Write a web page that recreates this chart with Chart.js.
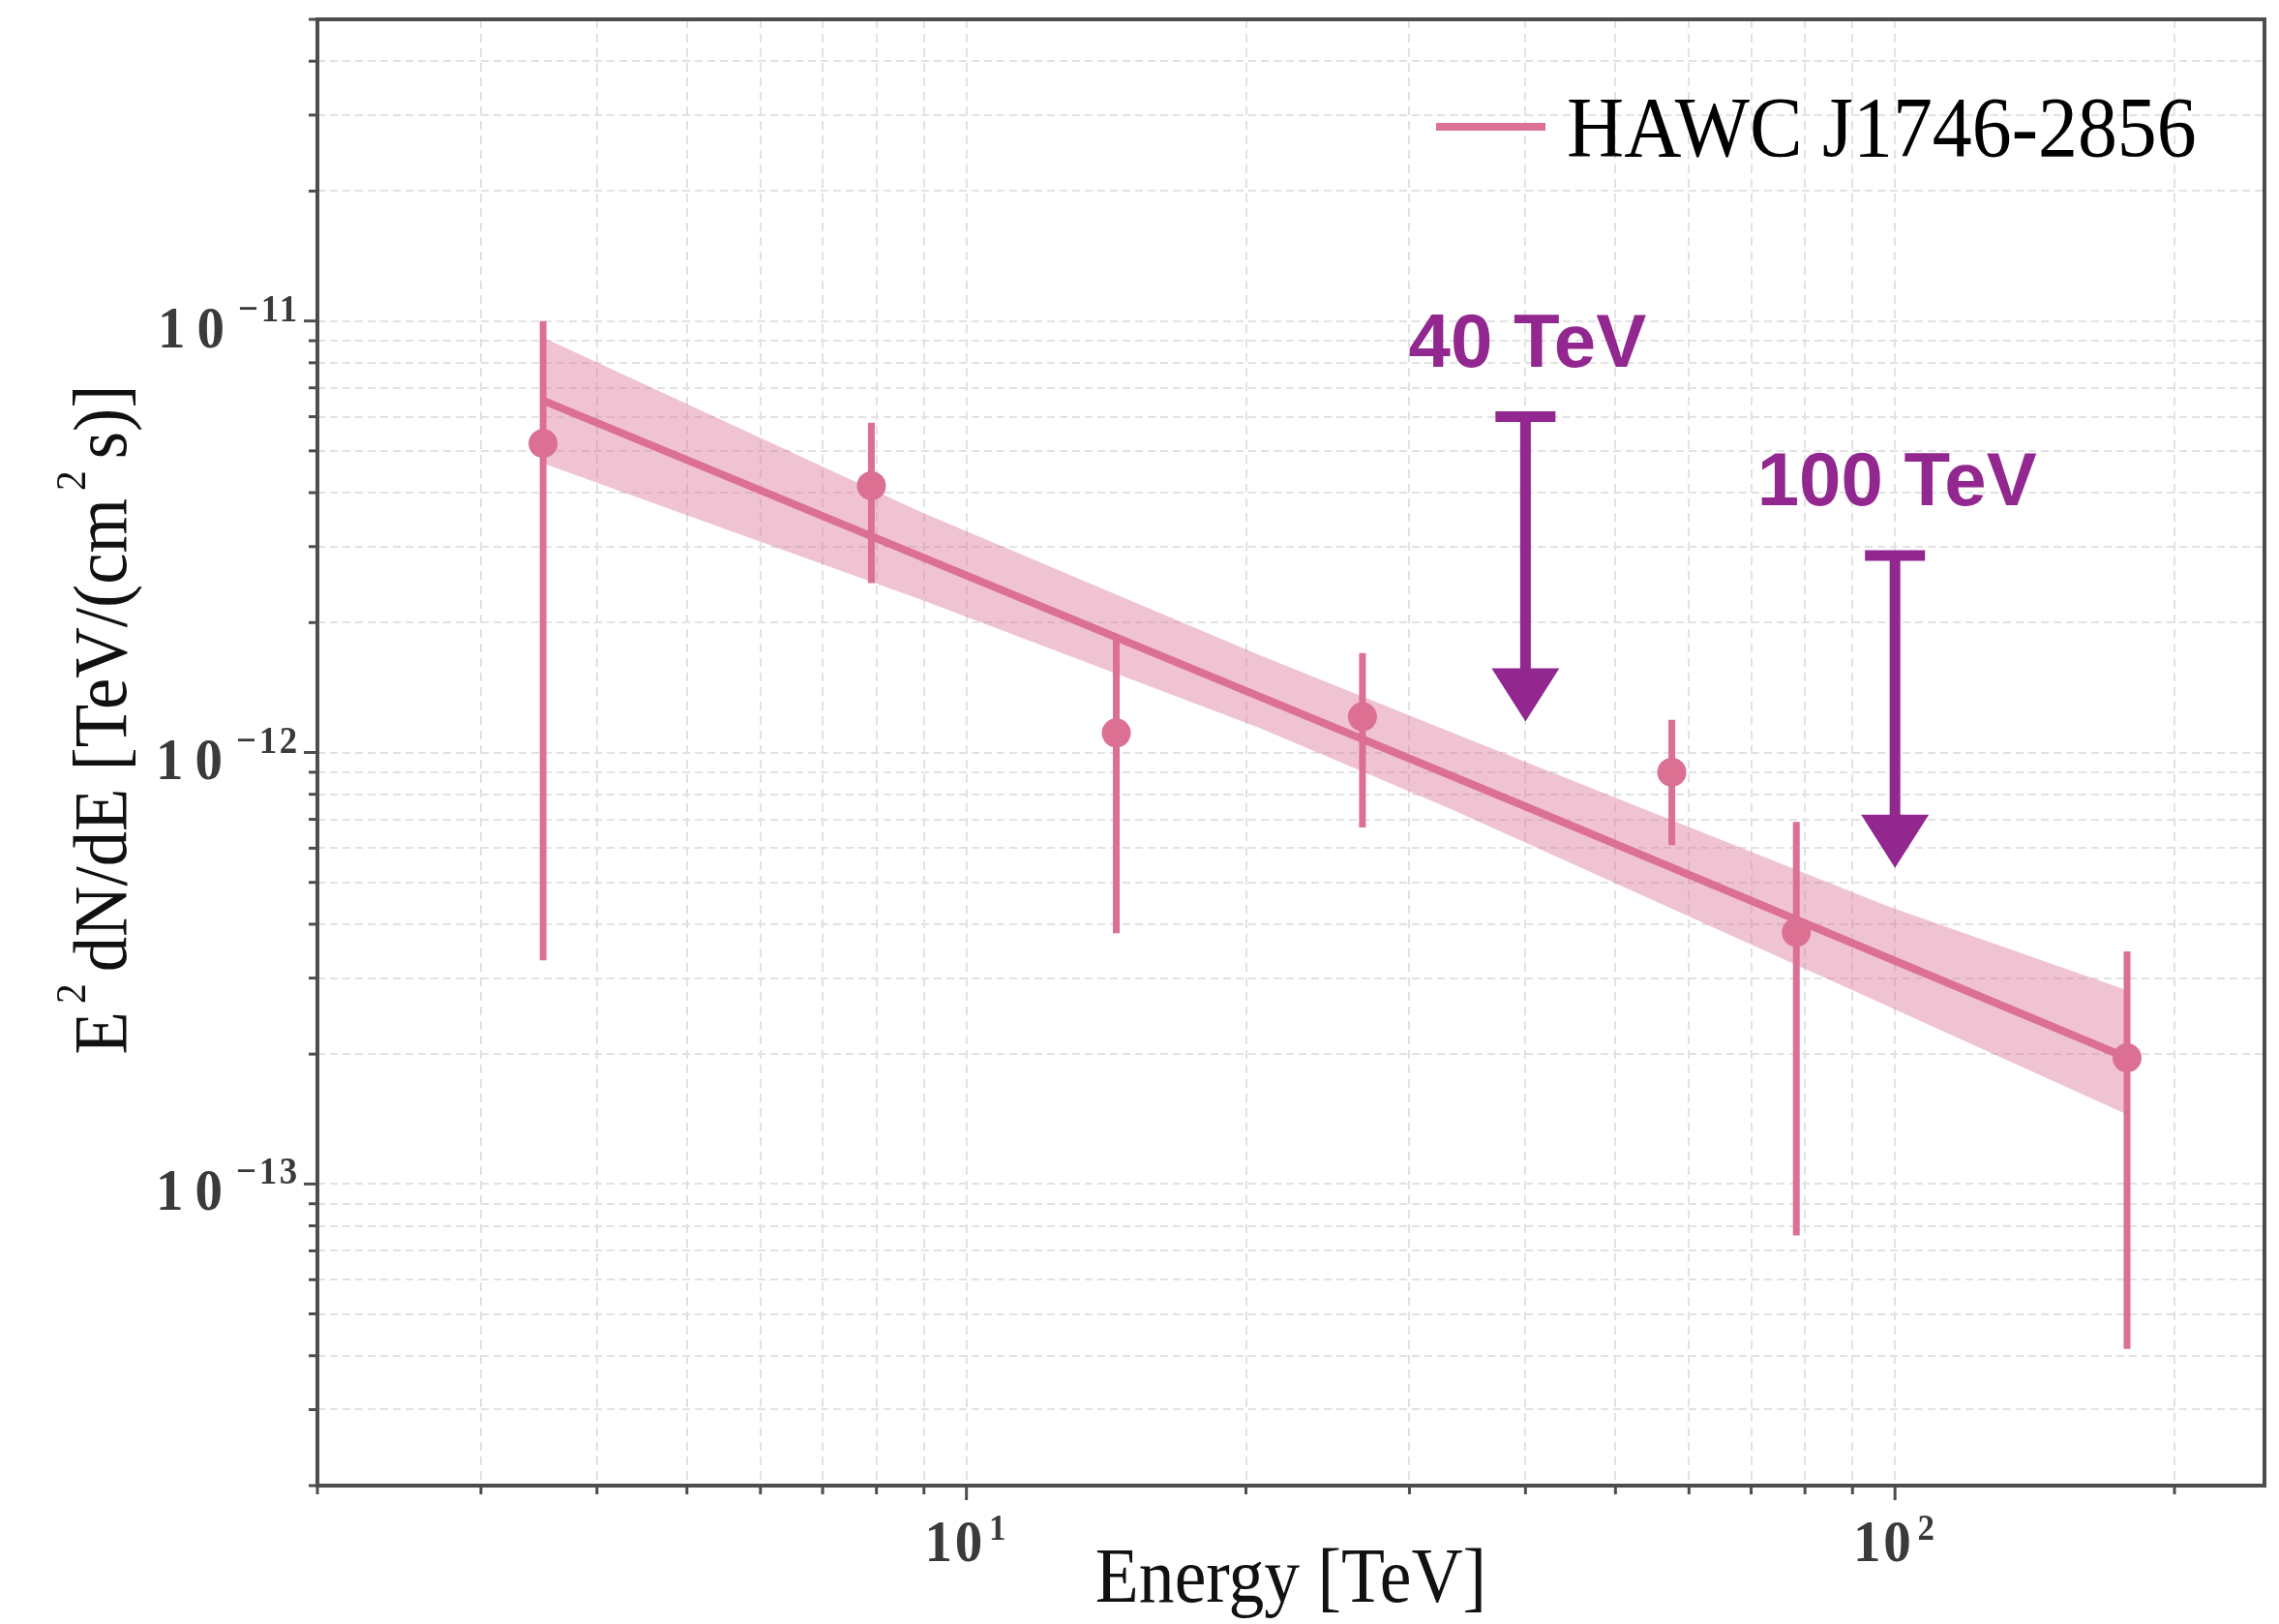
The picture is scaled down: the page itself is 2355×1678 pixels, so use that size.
<!DOCTYPE html>
<html>
<head>
<meta charset="utf-8">
<script src="https://cdn.jsdelivr.net/npm/chart.js@4.4.1/dist/chart.umd.min.js"></script>
<style>
  html, body { margin: 0; padding: 0; background: #fff; }
  #wrap { width: 2355px; height: 1678px; }
</style>
</head>
<body>
<div id="wrap"><canvas id="sed" width="2355" height="1678"></canvas></div>
<script>
// flux points: energy [TeV], E^2 dN/dE [TeV/(cm^2 s)] and error bar ends
var energies  = [3.5, 7.9, 14.5, 26.7, 57.5, 78.3, 177.8];
var fluxes    = [5.2e-12, 4.15e-12, 1.11e-12, 1.21e-12, 9.0e-13, 3.83e-13, 1.96e-13];
var fluxLow   = [3.3e-13, 2.47e-12, 3.81e-13, 6.7e-13, 6.1e-13, 7.6e-14, 4.15e-14];
var fluxHigh  = [1.0e-11, 5.81e-12, 1.84e-12, 1.70e-12, 1.19e-12, 6.9e-13, 3.46e-13];

// best fit and its band
var fitEnergies = [3.5, 40, 177.8];
var fitFluxes   = [6.54e-12, 7.5e-13, 1.96e-13];
var bandEnergies = [3.5, 8.93, 20.7, 33.4, 98.3, 177.8];
var bandUpper    = [9.16e-12, 3.61e-12, 1.68e-12, 1.11e-12, 4.4e-13, 2.81e-13];
var bandLower    = [4.68e-12, 2.26e-12, 1.14e-12, 7.36e-13, 2.58e-13, 1.45e-13];

// hand drawn arrows
var arrowEnergies = [40, 100];
var arrowTops     = [6.0e-12, 2.86e-12];
var arrowTips     = [1.18e-12, 5.4e-13];
var arrowLabels   = ['40 TeV', '100 TeV'];

// axes
var xTicks = [2, 3, 4, 5, 6, 7, 8, 9, 10, 20, 30, 40, 50, 60, 70, 80, 90, 100, 200];
var xMajor = [10, 100];
var xMajorExp = ['1', '2'];
var yTicks = [2e-14, 3e-14, 4e-14, 5e-14, 6e-14, 7e-14, 8e-14, 9e-14,
              1e-13, 2e-13, 3e-13, 4e-13, 5e-13, 6e-13, 7e-13, 8e-13, 9e-13,
              1e-12, 2e-12, 3e-12, 4e-12, 5e-12, 6e-12, 7e-12, 8e-12, 9e-12,
              1e-11, 2e-11, 3e-11, 4e-11, 5e-11];
var yMajor = [1e-13, 1e-12, 1e-11];
var yMajorExp = ['\u221213', '\u221212', '\u221211'];

var seriesName = 'HAWC J1746-2856';

var pink = '#DB7093';
var bandPink = 'rgba(219, 112, 147, 0.42)';
var purple = '#92278F';
var frameGray = '#4d4d4d';
var gridGray = '#e2e2e2';
var serif = '"Liberation Serif", "Times New Roman", serif';
var sans = '"Liberation Sans", Arial, sans-serif';
var squeeze = 0.92;

function pairs(xs, ys) {
    return xs.map(function (x, i) { return { x: x, y: ys[i] }; });
}

function squeezedText(ctx, text, x, y, align) {
    var w = ctx.measureText(text).width * squeeze;
    var left = align === 'center' ? x - w / 2 : (align === 'right' ? x - w : x);
    ctx.save();
    ctx.translate(left, y);
    ctx.scale(squeeze, 1);
    ctx.textAlign = 'left';
    ctx.fillText(text, 0, 0);
    ctx.restore();
    return w;
}

function textWidth(ctx, font, spacing, text) {
    ctx.font = font;
    ctx.letterSpacing = spacing;
    return ctx.measureText(text).width * squeeze;
}

// "10" with a superscript exponent
function powerLabel(ctx, exp, left, baseline, o) {
    ctx.font = o.font;
    ctx.letterSpacing = o.spacing;
    var w = squeezedText(ctx, '10', left, baseline, 'left');
    ctx.font = o.supFont;
    ctx.letterSpacing = o.supSpacing;
    squeezedText(ctx, exp, left + w + o.gap, baseline - o.raise, 'left');
    ctx.letterSpacing = '0px';
}

var extras = {
    id: 'extras',
    afterDatasetsDraw: function (chart) {
        var ctx = chart.ctx;
        var xs = chart.scales.x, ys = chart.scales.y;
        // error bars
        ctx.save();
        ctx.strokeStyle = pink;
        ctx.lineWidth = 7;
        energies.forEach(function (e, i) {
            var px = xs.getPixelForValue(e);
            ctx.beginPath();
            ctx.moveTo(px, ys.getPixelForValue(fluxHigh[i]));
            ctx.lineTo(px, ys.getPixelForValue(fluxLow[i]));
            ctx.stroke();
        });
        ctx.restore();
    },
    afterDraw: function (chart) {
        var ctx = chart.ctx;
        var area = chart.chartArea;
        var xs = chart.scales.x, ys = chart.scales.y;
        ctx.save();

        // frame
        ctx.strokeStyle = frameGray;
        ctx.lineWidth = 4;
        ctx.strokeRect(area.left, area.top, area.right - area.left, area.bottom - area.top);

        // tick marks
        ctx.lineWidth = 3;
        yTicks.forEach(function (v) {
            var py = ys.getPixelForValue(v);
            var len = yMajor.indexOf(v) >= 0 ? 14 : 9;
            ctx.beginPath();
            ctx.moveTo(area.left - len, py);
            ctx.lineTo(area.left, py);
            ctx.stroke();
        });
        xTicks.forEach(function (v) {
            var px = xs.getPixelForValue(v);
            var len = xMajor.indexOf(v) >= 0 ? 15 : 9;
            ctx.beginPath();
            ctx.moveTo(px, area.bottom);
            ctx.lineTo(px, area.bottom + len);
            ctx.stroke();
        });

        // tick labels
        ctx.fillStyle = '#3a3a3a';
        ctx.textBaseline = 'alphabetic';
        var yOpts = { font: 'bold 62px ' + serif, spacing: '13px', supFont: 'bold 40px ' + serif,
                      supSpacing: '3px', gap: 2, raise: 27 };
        yMajor.forEach(function (v, i) {
            var py = ys.getPixelForValue(v);
            var w = textWidth(ctx, yOpts.font, yOpts.spacing, '10') + yOpts.gap +
                    textWidth(ctx, yOpts.supFont, yOpts.supSpacing, yMajorExp[i]);
            powerLabel(ctx, yMajorExp[i], area.left - 18 - w, py + 27, yOpts);
        });
        var xOpts = { font: 'bold 62px ' + serif, spacing: '3px', supFont: 'bold 38px ' + serif,
                      supSpacing: '0px', gap: 4, raise: 22 };
        xMajor.forEach(function (v, i) {
            var px = xs.getPixelForValue(v);
            var wBase = textWidth(ctx, xOpts.font, xOpts.spacing, '10');
            powerLabel(ctx, xMajorExp[i], px - 12 - wBase / 2, area.bottom + 78, xOpts);
        });

        // axis titles
        ctx.fillStyle = '#111';
        ctx.font = '80px ' + serif;
        squeezedText(ctx, 'Energy [TeV]', (area.left + area.right) / 2, area.bottom + 120, 'center');

        var parts = [['E', 0], ['2', 1], ['dN/dE [TeV/(cm', 0], ['2', 1], ['s)]', 0]];
        var big = '79px ' + serif, small = '45px ' + serif;
        var total = 0;
        parts.forEach(function (p) {
            ctx.font = p[1] ? small : big;
            total += ctx.measureText(p[0]).width * squeeze + (p[1] ? 20 : 0);
        });
        ctx.save();
        ctx.translate(130, (area.top + area.bottom) / 2 - 34);
        ctx.rotate(-Math.PI / 2);
        var cx = -total / 2;
        parts.forEach(function (p) {
            ctx.font = p[1] ? small : big;
            if (p[1]) cx += 8;
            cx += squeezedText(ctx, p[0], cx, p[1] ? -42 : 0, 'left');
            if (p[1]) cx += 12;
        });
        ctx.restore();

        // legend
        ctx.strokeStyle = pink;
        ctx.lineWidth = 8;
        ctx.beginPath();
        ctx.moveTo(1484, 131);
        ctx.lineTo(1597, 131);
        ctx.stroke();
        ctx.fillStyle = '#000';
        ctx.font = '89px ' + serif;
        squeezedText(ctx, seriesName, 1619, 161, 'left');

        // arrows with their labels
        ctx.fillStyle = purple;
        ctx.strokeStyle = purple;
        arrowEnergies.forEach(function (e, i) {
            var px = xs.getPixelForValue(e);
            var top = ys.getPixelForValue(arrowTops[i]);
            var tip = ys.getPixelForValue(arrowTips[i]);
            ctx.lineWidth = 11;
            ctx.beginPath();
            ctx.moveTo(px - 31, top);
            ctx.lineTo(px + 31, top);
            ctx.moveTo(px, top);
            ctx.lineTo(px, tip - 50);
            ctx.stroke();
            ctx.beginPath();
            ctx.moveTo(px - 35, tip - 55);
            ctx.lineTo(px + 35, tip - 55);
            ctx.lineTo(px, tip);
            ctx.closePath();
            ctx.fill();
            ctx.font = 'bold 78px ' + sans;
            ctx.textAlign = 'center';
            ctx.fillText(arrowLabels[i], px + 2, top - 52);
        });
        ctx.restore();
    }
};

document.addEventListener('DOMContentLoaded', function () {
    var ctx = document.getElementById('sed').getContext('2d');

    new Chart(ctx, {
        type: 'line',
        data: {
            datasets: [{
                label: 'band upper',
                data: pairs(bandEnergies, bandUpper),
                borderWidth: 0,
                pointRadius: 0,
                backgroundColor: bandPink,
                fill: '+1'
            }, {
                label: 'band lower',
                data: pairs(bandEnergies, bandLower),
                borderWidth: 0,
                pointRadius: 0,
                fill: false
            }, {
                label: seriesName,
                data: pairs(fitEnergies, fitFluxes),
                borderColor: pink,
                borderWidth: 8,
                pointRadius: 0,
                fill: false
            }, {
                label: 'points',
                data: pairs(energies, fluxes),
                showLine: false,
                pointRadius: 15,
                pointBorderWidth: 0,
                pointBackgroundColor: pink,
                borderColor: pink
            }]
        },
        options: {
            responsive: false,
            animation: false,
            layout: { padding: { top: 20, right: 15, left: 0, bottom: 0 } },
            plugins: {
                legend: { display: false },
                tooltip: { enabled: false }
            },
            scales: {
                x: {
                    type: 'logarithmic',
                    min: 2,
                    max: 250,
                    afterBuildTicks: function (scale) {
                        scale.ticks = xTicks.map(function (v) { return { value: v }; });
                    },
                    afterFit: function (scale) { scale.height = 143; },
                    ticks: { display: false },
                    grid: { color: gridGray, lineWidth: 2, drawTicks: false },
                    border: { display: false, dash: [9, 6] }
                },
                y: {
                    type: 'logarithmic',
                    min: 2e-14,
                    max: 5e-11,
                    afterBuildTicks: function (scale) {
                        scale.ticks = yTicks.map(function (v) { return { value: v }; });
                    },
                    afterFit: function (scale) { scale.width = 328; },
                    ticks: { display: false },
                    grid: { color: gridGray, lineWidth: 2, drawTicks: false },
                    border: { display: false, dash: [8, 5] }
                }
            }
        },
        plugins: [extras]
    });
});
</script>
</body>
</html>
